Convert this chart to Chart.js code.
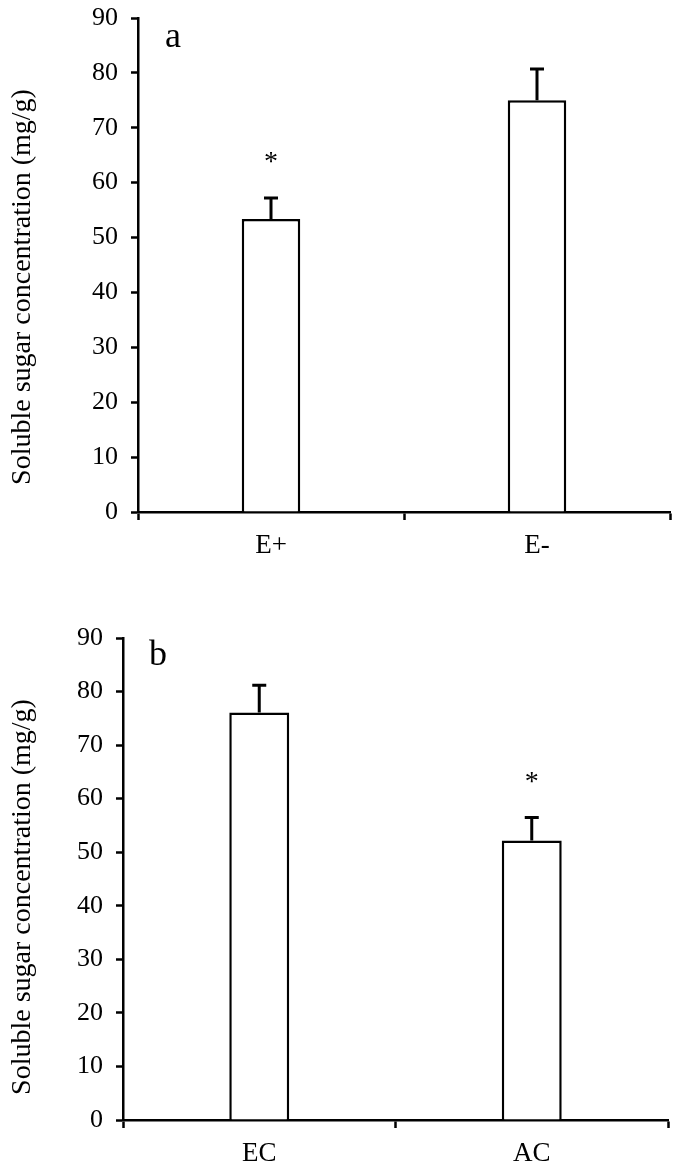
<!DOCTYPE html>
<html>
<head>
<meta charset="utf-8">
<script src="https://cdn.jsdelivr.net/npm/chart.js@4.4.0/dist/chart.umd.min.js"></script>
<style>
  body { margin: 0; background: #fff; }
  canvas { display: block; }
</style>
</head>
<body>
<canvas id="chartA" width="675" height="585"></canvas>
<canvas id="chartB" width="675" height="589"></canvas>
<script>
// panel a
const labelsA = ['E+', 'E-'];
const valuesA = [53.4, 75.0];
const errorsA = [3.8, 5.7];
const starsA = [true, false];

// panel b
const labelsB = ['EC', 'AC'];
const valuesB = [76.1, 52.2];
const errorsB = [5.1, 4.3];
const starsB = [false, true];

const yTicks = [0, 10, 20, 30, 40, 50, 60, 70, 80, 90];
const yTitle = 'Soluble sugar concentration (mg/g)';

const serif = '"Liberation Serif", "Times New Roman", serif';

// error bars, asterisks, axis title and the panel letter
const extrasPlugin = {
    id: 'extras',
    afterDatasetsDraw(chart, args, opts) {
        const ctx = chart.ctx;
        const y = chart.scales.y;
        const area = chart.chartArea;
        const meta = chart.getDatasetMeta(0);
        ctx.save();
        ctx.strokeStyle = '#000';
        ctx.fillStyle = '#000';
        meta.data.forEach((bar, i) => {
            const v = opts.values[i];
            const top = y.getPixelForValue(v + opts.errors[i]);
            ctx.lineWidth = 3;
            ctx.beginPath();
            ctx.moveTo(bar.x, bar.y);
            ctx.lineTo(bar.x, top);
            ctx.moveTo(bar.x - 7, top);
            ctx.lineTo(bar.x + 7, top);
            ctx.stroke();
            if (opts.stars[i]) {
                ctx.font = '28px ' + serif;
                ctx.textAlign = 'center';
                ctx.textBaseline = 'middle';
                ctx.fillText('*', bar.x, top - 35);
            }
        });
        ctx.font = '36px ' + serif;
        ctx.textAlign = 'left';
        ctx.textBaseline = 'middle';
        ctx.fillText(opts.letter, area.left + opts.letterDx, area.top + opts.letterDy);

        // y axis title, sits a little below the middle of the axis
        ctx.translate(23, (area.top + area.bottom) / 2 + opts.titleDy);
        ctx.rotate(-Math.PI / 2);
        ctx.font = '28px ' + serif;
        ctx.textAlign = 'center';
        ctx.fillText(yTitle, 0, 0);
        ctx.restore();
    }
};

function makeChart(id, labels, values, errors, stars, letter, geo) {
    return new Chart(document.getElementById(id), {
        type: 'bar',
        data: {
            labels: labels,
            datasets: [{
                data: values,
                backgroundColor: '#fff',
                borderColor: '#000',
                borderWidth: 2.5,
                borderSkipped: 'bottom',
                categoryPercentage: 1,
                barPercentage: 0.22
            }]
        },
        options: {
            responsive: false,
            animation: false,
            devicePixelRatio: 1,
            layout: { padding: geo.padding },
            plugins: {
                legend: { display: false },
                tooltip: { enabled: false },
                extras: {
                    values: values, errors: errors, stars: stars,
                    letter: letter, letterDx: geo.letterDx, letterDy: geo.letterDy,
                    titleDy: geo.titleDy
                }
            },
            scales: {
                x: {
                    grid: {
                        display: true, drawOnChartArea: false, offset: true,
                        tickLength: 8, tickWidth: 2.5, tickColor: '#000', color: '#000'
                    },
                    border: { color: '#000', width: 2.5 },
                    ticks: { color: '#000', padding: 10, font: { family: serif, size: 27 } },
                    afterFit: s => { s.height = geo.xHeight; }
                },
                y: {
                    min: 0,
                    max: 90,
                    afterBuildTicks: s => { s.ticks = yTicks.map(v => ({ value: v })); },
                    grid: {
                        display: true, drawOnChartArea: false,
                        tickLength: 7, tickWidth: 2.5, tickColor: '#000', color: '#000'
                    },
                    border: { color: '#000', width: 2.5 },
                    ticks: { color: '#000', padding: 13, font: { family: serif, size: 26 } },
                    afterFit: s => {
                        s.width = geo.yWidth;
                        s.paddingTop = 0;
                        s.paddingBottom = 0;
                    }
                }
            }
        },
        plugins: [extrasPlugin]
    });
}

makeChart('chartA', labelsA, valuesA, errorsA, starsA, 'a', {
    padding: { left: 4, right: 5, top: 18, bottom: 0 },
    yWidth: 134, xHeight: 73, letterDx: 27, letterDy: 20, titleDy: 22
});
makeChart('chartB', labelsB, valuesB, errorsB, starsB, 'b', {
    padding: { left: 4, right: 7, top: 53, bottom: 0 },
    yWidth: 119, xHeight: 54, letterDx: 26, letterDy: 18, titleDy: 18
});
</script>
</body>
</html>
